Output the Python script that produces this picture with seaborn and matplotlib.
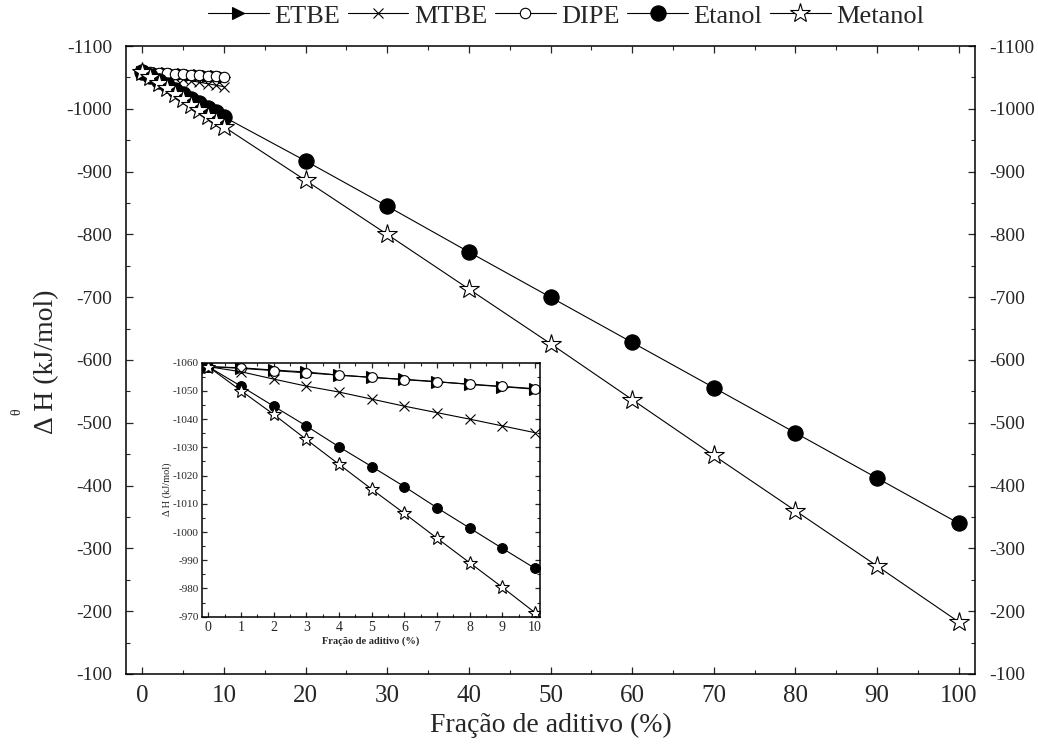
import numpy as np
import pandas as pd
import matplotlib
matplotlib.use("Agg")
import matplotlib.pyplot as plt
import seaborn as sns
from matplotlib.ticker import MultipleLocator

# fraction of additive (%)
x_low = [0, 1, 2, 3, 4, 5, 6, 7, 8, 9, 10]
x_high = [20, 30, 40, 50, 60, 70, 80, 90, 100]

# enthalpy of combustion (kJ/mol)
etbe = [-1058.6, -1058.2, -1057.4, -1056.7, -1055.6, -1054.8, -1054.1, -1053.3, -1052.3, -1051.5, -1050.6]
mtbe = [-1058.6, -1056.8, -1054.2, -1051.7, -1049.6, -1047.1, -1044.6, -1042.3, -1040.0, -1037.6, -1035.2]
dipe = [-1058.6, -1058.0, -1057.2, -1056.4, -1055.6, -1054.8, -1054.0, -1053.2, -1052.4, -1051.6, -1050.8]
etanol_low = [-1058.6, -1051.7, -1044.6, -1037.6, -1030.2, -1023.2, -1016.1, -1008.6, -1001.4, -994.2, -987.1]
etanol_high = [-917, -845, -772, -700, -628, -556, -484, -412, -340]
metanol_low = [-1058.6, -1050.1, -1041.7, -1032.8, -1024.0, -1015.2, -1006.6, -997.8, -989.1, -980.4, -971.4]
metanol_high = [-886, -800, -713, -626, -537, -448, -360, -272, -183]

names = ["ETBE", "MTBE", "DIPE", "Etanol", "Metanol"]

sns.set_style("ticks")
plt.rcParams["font.family"] = ["Liberation Serif", "DejaVu Serif"]
plt.rcParams["axes.unicode_minus"] = False

fig = plt.figure(figsize=(10.38, 7.46), dpi=100)
ax = fig.add_axes([126 / 1038, 1 - 674 / 746, (975 - 126) / 1038, (674 - 46) / 746])


def draw(axis, x, y, marker, ms, face, label=None):
    sns.lineplot(x=x, y=y, ax=axis, color="black", linewidth=0.8,
                 marker=marker, markersize=ms, markerfacecolor=face,
                 markeredgecolor="black", markeredgewidth=0.8, label=label)


def style_axes(axis, xmaj, xmin, ymaj, ymin, labsize_x, labsize_y, big=True):
    axis.xaxis.set_major_locator(MultipleLocator(xmaj))
    axis.xaxis.set_minor_locator(MultipleLocator(xmin))
    axis.yaxis.set_major_locator(MultipleLocator(ymaj))
    axis.yaxis.set_minor_locator(MultipleLocator(ymin))
    L = 5 if big else 3.5
    axis.tick_params(which="major", direction="in", length=L, width=0.9,
                     top=True, right=True)
    axis.tick_params(which="minor", direction="in", length=L * 0.6, width=0.8,
                     top=True, right=True)
    axis.tick_params(axis="x", labelsize=labsize_x)
    axis.tick_params(axis="y", labelsize=labsize_y)
    for s in axis.spines.values():
        s.set_linewidth(1.1)
        s.set_color("black")


# main panel
all_etanol = etanol_low + etanol_high
all_metanol = metanol_low + metanol_high
draw(ax, x_low, etbe, ">", 8, "black", names[0])
draw(ax, x_low, mtbe, "x", 7, "black", names[1])
draw(ax, x_low, dipe, "o", 7.5, "white", names[2])
draw(ax, x_low + x_high, all_etanol, "o", 11, "black", names[3])
draw(ax, x_low + x_high, all_metanol, "*", 15, "white", names[4])

ax.set_xlim(-2, 102)
ax.set_ylim(-100, -1100)
style_axes(ax, 10, 5, 100, 50, 18, 14)
ax.tick_params(axis="y", labelright=True, pad=10)
ax.tick_params(axis="x", pad=8)
ax.set_xlabel("Fração de aditivo (%)", fontsize=20, labelpad=4)
ax.set_ylabel("")
fig.text(47 / 1038, 1 - 362 / 746, "Δ H (kJ/mol)", rotation=90, fontsize=20,
         ha="center", va="center")
fig.text(17 / 1038, 1 - 412 / 746, "θ", rotation=90, fontsize=10,
         ha="center", va="center")

handles, labels = ax.get_legend_handles_labels()
if ax.get_legend() is not None:
    ax.get_legend().remove()
fig.legend(handles, labels, loc="center", bbox_to_anchor=(566 / 1038, 1 - 16 / 746),
           ncol=5, frameon=False, fontsize=19, handlelength=2.3,
           handletextpad=0.2, columnspacing=0.3, borderaxespad=0, borderpad=0)

# inset panel
ins = fig.add_axes([201.7 / 1038, 1 - 616.7 / 746, (540 - 201.7) / 1038, (616.7 - 362.7) / 746])
draw(ins, x_low, etbe, ">", 9, "black")
draw(ins, x_low, dipe, "o", 7, "white")
draw(ins, x_low, mtbe, "x", 7, "black")
draw(ins, x_low, etanol_low, "o", 7, "black")
draw(ins, x_low, metanol_low, "*", 10, "white")
ins.set_xlim(-0.2, 10.15)
ins.set_ylim(-970, -1060)
style_axes(ins, 1, 0.5, 10, 5, 10, 8, big=False)
ins.tick_params(axis="y", pad=2)
ins.tick_params(axis="x", pad=3)
ins.set_xlabel("Fração de aditivo (%)", fontsize=7.5, fontweight="bold", labelpad=2)
ins.set_ylabel("Δ H (kJ/mol)", fontsize=7.5, labelpad=1)
if ins.get_legend() is not None:
    ins.get_legend().remove()

fig.savefig("out.png", dpi=100)
